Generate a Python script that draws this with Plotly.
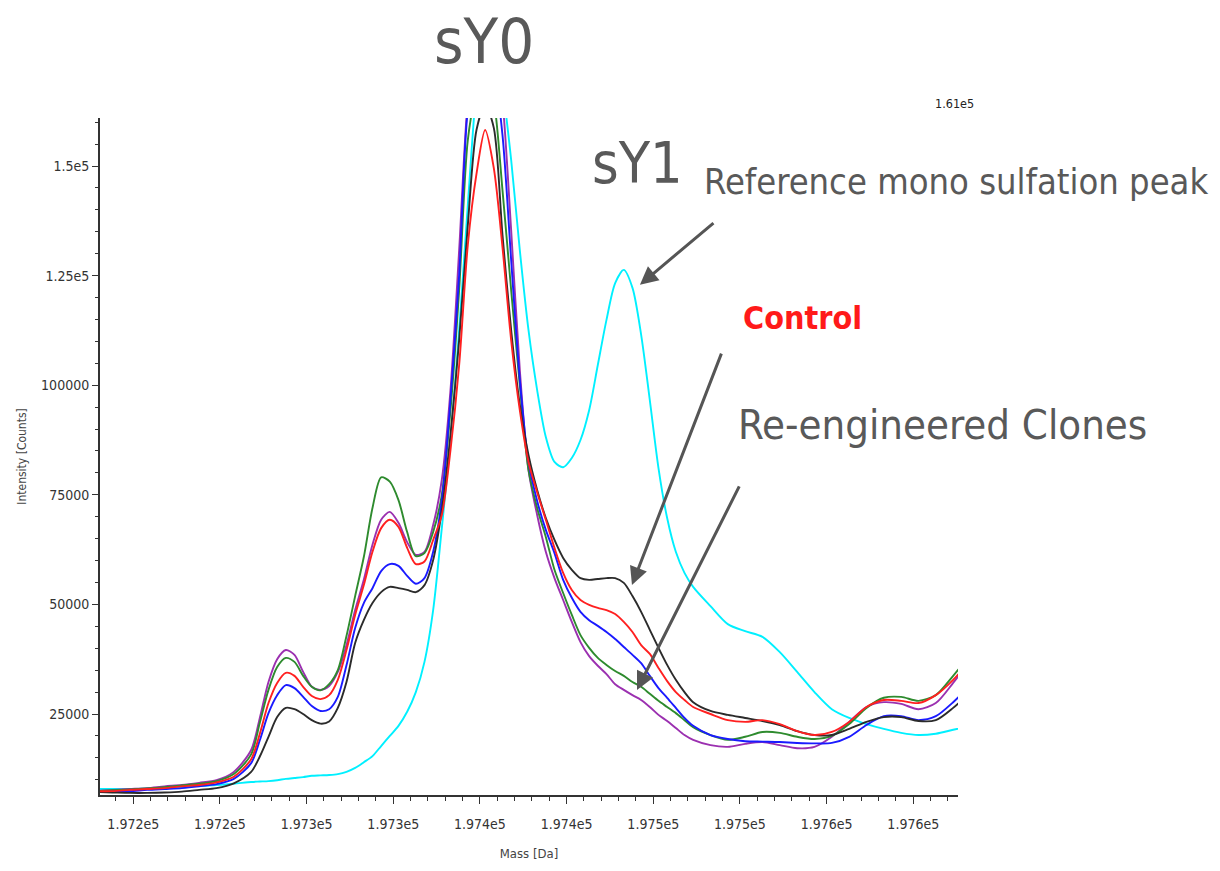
import plotly.graph_objects as go

# ---------------- data ----------------
mass = [197155, 197165, 197175, 197185, 197195, 197205, 197215, 197225, 197235, 197245,
        197250, 197255, 197260, 197265, 197270, 197275, 197280, 197285, 197290, 197295,
        197300, 197305, 197310, 197315, 197320, 197325, 197330, 197335, 197340, 197345,
        197350, 197355, 197360, 197365, 197370, 197375, 197380, 197385, 197390, 197395,
        197400, 197405, 197410, 197415, 197420, 197425, 197430, 197435, 197440, 197445,
        197450, 197455, 197460, 197465, 197470, 197475, 197480, 197485, 197490, 197495,
        197500, 197510, 197520, 197530, 197540, 197550, 197560, 197570, 197580, 197590,
        197600, 197610, 197620, 197630, 197640, 197650, 197660]

reference_cyan = [7900, 7900, 7900, 8000, 8100, 8300, 8600, 8800, 9100, 9500,
                  9600, 9700, 9900, 10200, 10400, 10600, 10900, 11000, 11100, 11300,
                  11800, 12700, 14000, 15400, 17700, 20000, 22300, 25500, 30000, 36900,
                  48700, 67400, 87500, 112600, 141100, 168000, 184000, 180000, 168000, 151400,
                  130800, 112600, 98900, 88200, 82500, 81300, 83400, 87500, 94300, 104600,
                  114900, 123300, 126300, 122200, 111500, 96600, 81100, 69700, 62000, 57200,
                  54000, 49600, 45500, 43900, 42600, 39100, 34600, 30000, 26100, 24100,
                  22700, 21600, 20700, 20200, 20500, 21400, 22300]

clone_purple = [7400, 7700, 7900, 8100, 8500, 8800, 9300, 9900, 11800, 16800,
                24100, 32300, 37500, 39600, 38500, 34600, 31200, 30500, 31400, 34600,
                40700, 48700, 55600, 63600, 69300, 71100, 68600, 64200, 61300, 62000,
                68100, 78400, 98900, 130800, 165000, 180000, 186000, 180000, 165000, 135400,
                103500, 80700, 70400, 62000, 56000, 51000, 46000, 41400, 38200, 36000,
                34100, 31800, 30500, 29300, 28200, 26600, 24800, 23400, 21800, 20200,
                19100, 17900, 17500, 18200, 18600, 17900, 17200, 17500, 19800, 23200,
                26600, 27700, 27300, 26100, 27500, 32100, 37300]

clone_green = [7400, 7600, 7800, 8000, 8300, 8700, 9100, 9700, 11300, 15800,
               23000, 30500, 35700, 37800, 36900, 33700, 31200, 30400, 31800, 35000,
               42800, 51900, 60800, 72000, 79000, 78000, 73800, 66500, 61000, 61700,
               66500, 75000, 94300, 121700, 155900, 167000, 172000, 165000, 144500, 121700,
               100000, 80700, 72000, 65400, 57900, 52600, 47600, 43000, 40100, 37800,
               36200, 34800, 33700, 32300, 31200, 29600, 28000, 26600, 25200, 23600,
               22000, 20200, 19100, 19800, 20900, 20700, 19800, 19300, 20000, 22700,
               26400, 28700, 28900, 28000, 29300, 33700, 38500]

clone_blue = [7200, 7300, 7400, 7700, 7900, 8100, 8500, 9000, 10200, 13800,
              19000, 25200, 29300, 31600, 30900, 28900, 26800, 25700, 26100, 28900,
              36100, 44600, 50300, 53700, 57600, 59200, 58800, 56500, 54700, 56000,
              62000, 73800, 96600, 125100, 162800, 173000, 178000, 172000, 157100, 128600,
              101200, 82500, 73600, 67000, 61700, 55600, 51500, 48300, 46400, 45100,
              43700, 42100, 40300, 38500, 36600, 33700, 30900, 28700, 26400, 24100,
              22300, 20200, 19300, 18800, 18700, 18600, 18400, 18300, 18400, 19800,
              22500, 24500, 24500, 23600, 24500, 27700, 31600]

control_black = [7200, 7100, 7000, 7000, 7100, 7300, 7700, 8100, 9200, 11800,
                 15300, 19800, 24300, 26400, 26100, 25000, 23600, 22800, 23300, 26400,
                 32300, 41200, 46400, 50300, 52800, 54000, 53700, 53300, 52800, 54400,
                 60100, 71500, 88600, 110300, 136500, 158200, 164000, 158700, 134300, 112600,
                 95500, 84100, 76100, 69700, 64700, 60600, 57900, 56000, 55600, 55800,
                 56000, 56000, 54900, 51900, 48300, 44200, 40100, 36200, 32800, 30000,
                 27700, 25700, 24800, 24100, 23400, 22500, 21100, 20200, 20200, 21600,
                 23200, 24300, 24300, 23400, 23600, 26400, 30000]

control_red = [7400, 7400, 7700, 7900, 8100, 8500, 8800, 9400, 10700, 14700,
               20500, 27500, 32100, 34400, 33700, 31200, 29100, 28400, 29300, 32800,
               39600, 47600, 54400, 62000, 67400, 69300, 67700, 62900, 59200, 59800,
               64700, 70400, 85200, 104600, 132000, 148200, 158200, 149500, 131500, 110300,
               94300, 82500, 75600, 69300, 62900, 57200, 53300, 51000, 49900, 49200,
               48700, 47800, 46000, 43700, 40700, 38700, 35500, 32500, 30000, 28200,
               26600, 25000, 23600, 23200, 23600, 22700, 21100, 20200, 20900, 23200,
               26600, 28200, 28000, 27500, 29300, 32800, 37300]

x_tick_vals = [197177, 197227, 197277, 197327, 197377, 197427, 197477, 197527, 197577, 197627]
x_tick_text = ["1.972e5", "1.972e5", "1.973e5", "1.973e5", "1.974e5",
               "1.974e5", "1.975e5", "1.975e5", "1.976e5", "1.976e5"]
y_tick_vals = [25000, 50000, 75000, 100000, 125000, 150000]
y_tick_text = ["25000", "50000", "75000", "100000", "1.25e5", "1.5e5"]

x_range = [197157.8, 197652.8]
y_range = [6525, 160950]

series = [
    ("Reference", reference_cyan, "#00f0ff"),
    ("Clone A", clone_purple, "#9b30b0"),
    ("Clone B", clone_green, "#2e8b2e"),
    ("Clone C", clone_blue, "#1a1aff"),
    ("Control", control_black, "#2b2b2b"),
    ("Control 2", control_red, "#ff2020"),
]

FONT = "DejaVu Sans Condensed, DejaVu Sans, sans-serif"
TXT = "#595959"

fig = go.Figure()
for name, vals, col in series:
    fig.add_trace(go.Scatter(x=mass, y=vals, mode="lines", name=name,
                             line=dict(color=col, width=1.9, shape="spline", smoothing=0.8),
                             hoverinfo="x+y+name"))

axis_common = dict(showline=True, linecolor="#333", linewidth=2, ticks="outside",
                   tickcolor="#333", tickwidth=1, showgrid=False, zeroline=False,
                   tickfont=dict(family=FONT, size=14, color="#333"))

fig.update_xaxes(range=x_range, tickmode="array", tickvals=x_tick_vals, ticktext=x_tick_text,
                 ticklen=7, ticklabelstandoff=8,
                 minor=dict(tick0=197177, dtick=10, ticklen=4, ticks="outside", tickcolor="#333"),
                 title=dict(text="Mass [Da]", font=dict(family=FONT, size=13, color="#444"), standoff=18),
                 **axis_common)
fig.update_yaxes(range=y_range, tickmode="array", tickvals=y_tick_vals, ticktext=y_tick_text,
                 ticklen=6,
                 minor=dict(tick0=0, dtick=5000, ticklen=3, ticks="outside", tickcolor="#333"),
                 title=dict(text="Intensity [Counts]", font=dict(family=FONT, size=12, color="#444"), standoff=12),
                 **axis_common)

annotations = [
    dict(text="sY0", x=0.4476, y=1.1123, size=63, color=TXT, bold=False),
    dict(text="sY1", x=0.6262, y=0.9335, size=57, color=TXT, bold=False),
    dict(text="Reference mono sulfation peak", x=0.9977, y=0.9069, size=36, color=TXT, bold=False),
    dict(text="Control", x=0.8182, y=0.7046, size=32, color="#ff1a1a", bold=True),
    dict(text="Re-engineered Clones", x=0.9825, y=0.548, size=41.5, color=TXT, bold=False),
    dict(text="1.61e5", x=0.9965, y=1.0207, size=12.5, color="#222", bold=False),
]
for a in annotations:
    txt = "<b>%s</b>" % a["text"] if a["bold"] else a["text"]
    fig.add_annotation(text=txt, xref="paper", yref="paper", x=a["x"], y=a["y"],
                       xanchor="center", yanchor="middle", showarrow=False,
                       font=dict(family=FONT, size=a["size"], color=a["color"]))

arrows = [
    (197469.3, 122900, 75, -63),
    (197464.7, 54400, 90, -233),
    (197467.6, 30500, 103, -205),
]
for xh, yh, axo, ayo in arrows:
    fig.add_annotation(x=xh, y=yh, xref="x", yref="y", text="", showarrow=True,
                       ax=axo, ay=ayo, axref="pixel", ayref="pixel",
                       arrowhead=2, arrowsize=1.2, arrowwidth=3, arrowcolor="#555")

fig.update_layout(width=1220, height=871, margin=dict(l=100, r=262, t=118, b=76),
                  plot_bgcolor="white", paper_bgcolor="white", showlegend=False,
                  font=dict(family=FONT))

fig.write_html("out.html")
